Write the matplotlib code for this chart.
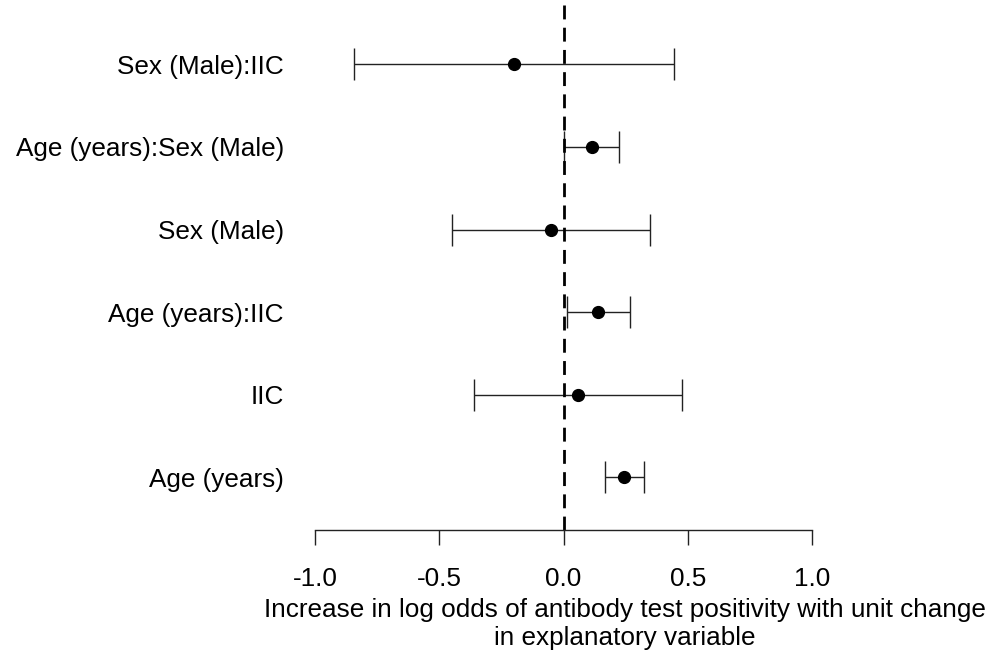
import matplotlib.pyplot as plt
import numpy as np

plt.rcParams['font.family'] = ['Liberation Sans', 'DejaVu Sans']

# terms listed bottom to top
terms = ["Age (years)", "IIC", "Age (years):IIC", "Sex (Male)",
         "Age (years):Sex (Male)", "Sex (Male):IIC"]
estimate = [0.245, 0.060, 0.137, -0.052, 0.113, -0.201]
lower = [0.165, -0.362, 0.016, -0.447, 0.000, -0.845]
upper = [0.322, 0.475, 0.266, 0.350, 0.225, 0.443]
xticks = [-1.0, -0.5, 0.0, 0.5, 1.0]

fs = 18.8

fig = plt.figure(figsize=(9.87, 6.55), dpi=100)
ax = fig.add_axes([315 / 987, 1 - 530 / 655, (812 - 315) / 987, 530 / 655])

ypos = np.arange(1, len(terms) + 1)
est = np.array(estimate)
err = [est - np.array(lower), np.array(upper) - est]
ax.errorbar(est, ypos, xerr=err, fmt='o', color='black', ms=8.5,
            elinewidth=1.0, capsize=11.5, capthick=1.0, ecolor='#222222')
ax.axvline(0, color='black', lw=2, ls=(0, (5, 3)))

ax.set_xlim(-1, 1)
ax.set_ylim(0.36, 6.78)
ax.set_xticks(xticks)
ax.set_xticklabels([f"{t:.1f}" for t in xticks])
ax.set_yticks(ypos)
ax.set_yticklabels(terms)
ax.tick_params(axis='y', left=False, pad=19, labelsize=fs)
ax.tick_params(axis='x', direction='out', length=11, width=1.0,
               pad=16, labelsize=fs, color='#222222')

for s in ['top', 'right', 'left']:
    ax.spines[s].set_visible(False)
ax.spines['bottom'].set_color('#222222')
ax.spines['bottom'].set_linewidth(1.0)
ax.patch.set_visible(False)

fig.text(625 / 987, 1 - 610 / 655,
         "Increase in log odds of antibody test positivity with unit change",
         ha='center', va='center', fontsize=fs)
fig.text(625 / 987, 1 - 638 / 655, "in explanatory variable",
         ha='center', va='center', fontsize=fs)

fig.savefig("out.png", dpi=100)
